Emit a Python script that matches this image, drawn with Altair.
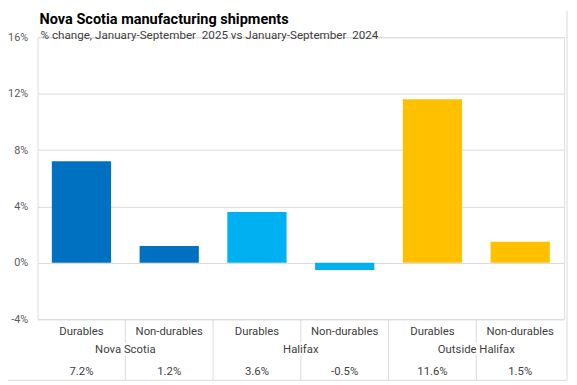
import altair as alt
import pandas as pd

keys = ["NS-D", "NS-N", "HX-D", "HX-N", "OH-D", "OH-N"]
categories = ["Durables", "Non-durables", "Durables", "Non-durables", "Durables", "Non-durables"]
regions = ["Nova Scotia", "Nova Scotia", "Halifax", "Halifax", "Outside Halifax", "Outside Halifax"]
values = [7.2, 1.2, 3.6, -0.5, 11.6, 1.5]
value_labels = ["7.2%", "1.2%", "3.6%", "-0.5%", "11.6%", "1.5%"]
region_order = ["Nova Scotia", "Halifax", "Outside Halifax"]
region_colors = ["#0070C0", "#00B0F0", "#FFC000"]
y_ticks = [-4, 0, 4, 8, 12, 16]
title_text = ["Nova Scotia manufacturing shipments"]
subtitle_text = ["% change, January-September\u00a0 2025 vs January-September\u00a0 2024"]

df = pd.DataFrame({"key": keys, "category": categories, "region": regions,
                   "value": values, "label": value_labels})
group_sep = df.iloc[[2, 4]]
sub_sep = df.iloc[[1, 3, 5]]
tdf = pd.DataFrame({"title": title_text, "subtitle": subtitle_text})

FONT = "Roboto"
TXT = "#404040"
H = 286
W = 534

xenc = alt.X("key:N", sort=keys, axis=None,
             scale=alt.Scale(paddingInner=0, paddingOuter=0))
xsep = alt.X("key:N", sort=keys, axis=None, bandPosition=0,
             scale=alt.Scale(paddingInner=0, paddingOuter=0))

bars = alt.Chart(df).mark_bar(width=alt.RelativeBandSize(0.675)).encode(
    x=xenc,
    y=alt.Y("value:Q", scale=alt.Scale(domain=[-4, 16], nice=False),
            axis=alt.Axis(values=y_ticks, labelExpr="datum.value + '%'", title=None,
                          domain=False, ticks=False, labelPadding=10,
                          labelFontSize=11, labelColor="#595959", labelFont=FONT,
                          gridColor="#D9D9D9", gridWidth=1)),
    color=alt.Color("region:N", scale=alt.Scale(domain=region_order, range=region_colors),
                    legend=None),
)

cat_text = alt.Chart(df).mark_text(fontSize=11.5, color=TXT, font=FONT, baseline="middle").encode(
    x=xenc, y=alt.value(H + 13), text="category:N")
val_text = alt.Chart(df).mark_text(fontSize=11.5, color=TXT, font=FONT, baseline="middle").encode(
    x=xenc, y=alt.value(H + 54), text="label:N")
reg_text = alt.Chart(sub_sep).mark_text(fontSize=11.5, color=TXT, font=FONT, baseline="middle").encode(
    x=xsep, y=alt.value(H + 31), text="region:N")

g_rules = alt.Chart(group_sep).mark_rule(color="#D9D9D9", strokeWidth=1).encode(
    x=xsep, y=alt.value(H), y2=alt.value(H + 62))
s_rules1 = alt.Chart(sub_sep).mark_rule(color="#D9D9D9", strokeWidth=1).encode(
    x=xsep, y=alt.value(H), y2=alt.value(H + 24))
s_rules2 = alt.Chart(sub_sep).mark_rule(color="#D9D9D9", strokeWidth=1).encode(
    x=xsep, y=alt.value(H + 37), y2=alt.value(H + 62))

title_m = alt.Chart(tdf).mark_text(font=FONT, fontSize=14.7, fontWeight="bold", color="#000000",
                                   align="left", baseline="alphabetic").encode(
    x=alt.value(2), y=alt.value(-13), text="title:N")
subtitle_m = alt.Chart(tdf).mark_text(font=FONT, fontSize=11.8, color=TXT,
                                      align="left", baseline="alphabetic").encode(
    x=alt.value(3), y=alt.value(2), text="subtitle:N")

border_b = alt.Chart(tdf).mark_rule(color="#D9D9D9").encode(
    x=alt.value(-30), x2=alt.value(W + 3), y=alt.value(H + 62))
border_r = alt.Chart(tdf).mark_rule(color="#D9D9D9").encode(
    x=alt.value(W + 3), y=alt.value(-27), y2=alt.value(H + 62))

chart = alt.layer(bars, cat_text, val_text, reg_text, g_rules, s_rules1, s_rules2,
                  title_m, subtitle_m, border_b, border_r).properties(
    width=W, height=H,
    autosize=alt.AutoSizeParams(type="none"),
    padding={"left": 30, "top": 27, "right": 5, "bottom": 64},
).configure_view(stroke=None).configure(background="white")

chart.save("out.html", embed_options={"renderer": "svg", "actions": False})
